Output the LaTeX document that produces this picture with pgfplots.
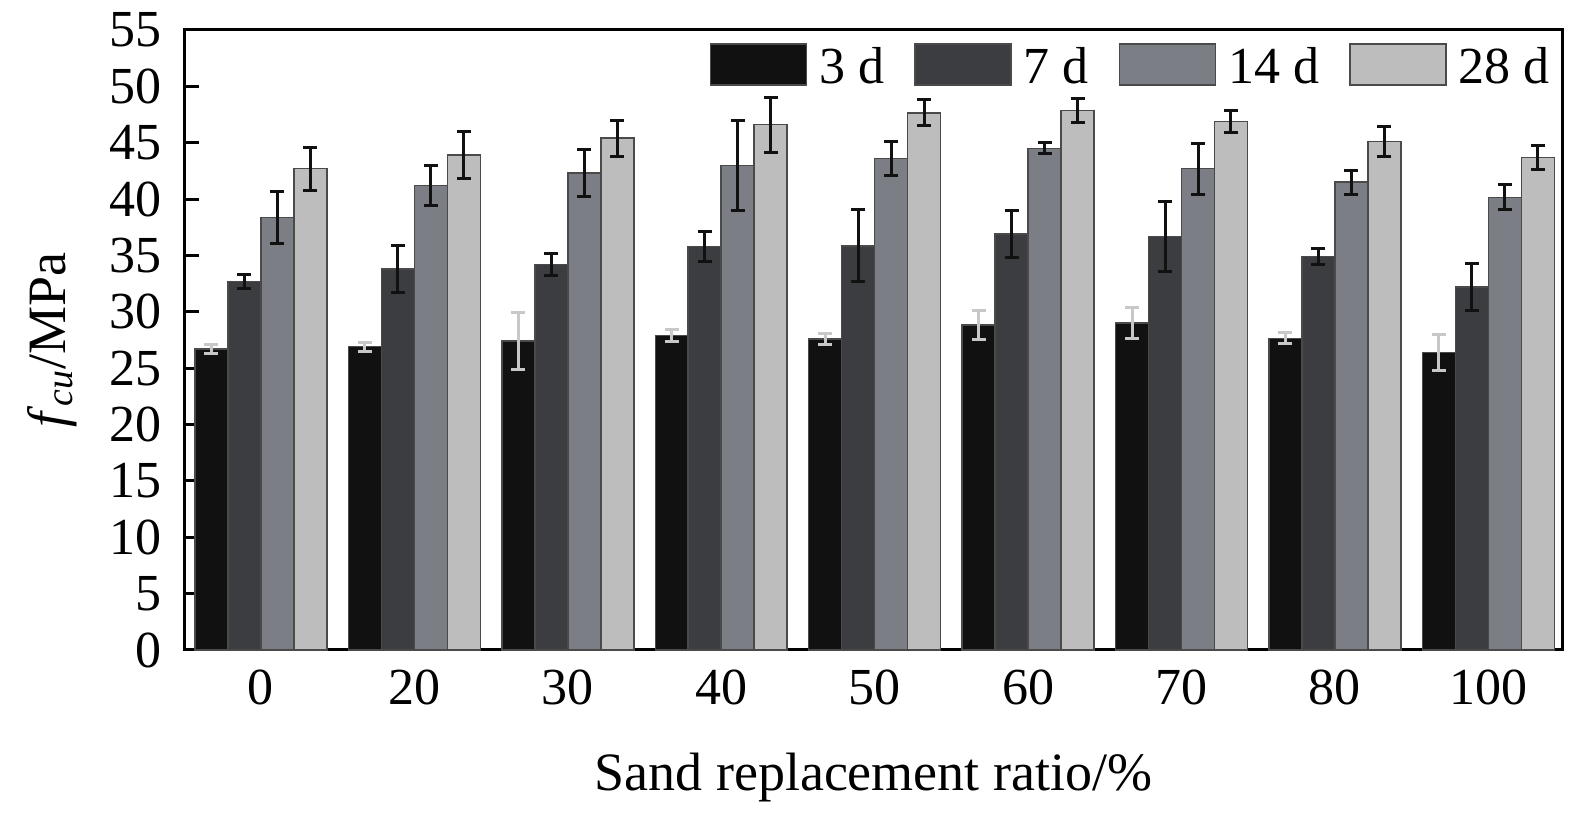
\documentclass[border=0pt]{standalone}
\usepackage{fontspec}
\setmainfont{Liberation Serif}
\usepackage{pgfplots}
\pgfplotsset{compat=1.18}
\usepackage{pgfplotstable}
\definecolor{cA}{HTML}{111111}
\definecolor{cB}{HTML}{3C3D41}
\definecolor{cC}{HTML}{7B7E85}
\definecolor{cD}{HTML}{BDBDBD}
\definecolor{edge}{HTML}{4A4A4A}
\definecolor{errlight}{HTML}{C8C8C8}
\definecolor{errdark}{HTML}{111111}

\pgfplotstableread{
x y e
0 26.7 0.4
1 26.9 0.4
2 27.4 2.5
3 27.9 0.5
4 27.6 0.5
5 28.85 1.3
6 29.0 1.35
7 27.65 0.5
8 26.4 1.6
}\tA
\pgfplotstableread{
x y e
0 32.7 0.6
1 33.8 2.1
2 34.2 1.0
3 35.8 1.35
4 35.85 3.2
5 36.9 2.1
6 36.7 3.1
7 34.9 0.7
8 32.2 2.05
}\tB
\pgfplotstableread{
x y e
0 38.35 2.3
1 41.2 1.75
2 42.3 2.1
3 43.0 4.0
4 43.6 1.55
5 44.5 0.5
6 42.7 2.25
7 41.5 1.05
8 40.15 1.1
}\tC
\pgfplotstableread{
x y e
0 42.7 1.9
1 43.9 2.1
2 45.4 1.6
3 46.6 2.45
4 47.65 1.15
5 47.85 1.1
6 46.9 1.0
7 45.1 1.3
8 43.7 1.05
}\tD

\newcommand{\bigfont}{\fontsize{26}{31}\selectfont}
\newcommand{\labfont}{\fontsize{27}{32}\selectfont}

\begin{document}
\begin{tikzpicture}
\begin{axis}[
  scale only axis,
  width=688.5pt, height=310pt,
  xmin=-0.495, xmax=8.48,
  ymin=0, ymax=55,
  ytick={0,5,...,55},
  xtick={0,...,8},
  xticklabels={0,20,30,40,50,60,70,80,100},
  ytick pos=left, xtick pos=bottom,
  tick align=inside,
  major tick length=7pt,
  x tick style={draw=none},
  y tick style={line width=1.5pt, black},
  axis line style={line width=1.5pt, black},
  /pgf/number format/assume math mode=true,
  tick label style={font=\bigfont, inner sep=0pt},
  yticklabel style={xshift=-11.5pt},
  xticklabel style={yshift=-10pt},
  xlabel={Sand replacement ratio/\%},
  ylabel={\textit{f}\textsubscript{\textit{cu}}/MPa},
  label style={font=\labfont, inner sep=0pt},
  xlabel style={at={(axis description cs:0.5,-0.205)}, anchor=center},
  ylabel style={at={(axis description cs:-0.0966,0.5)}, anchor=center},
  legend columns=4,
  legend style={at={(1,1)}, anchor=north east, xshift=-6pt, yshift=-6.5pt,
    draw=none, fill=none, inner sep=0pt, font=\bigfont,
    nodes={inner sep=0pt},
    /tikz/every odd column/.append style={column sep=6pt},
    /tikz/every even column/.append style={column sep=15pt}},
  legend image code/.code={\draw[#1, line width=0.75pt] (0pt,-9.1pt) rectangle (48pt,11.4pt);},
  clip=false,
]
\addplot[ybar, bar width=0.215, bar shift=0, fill=cA, draw=edge, line width=0.75pt,
  error bars/.cd, y dir=both, y explicit,
  error bar style={line width=1.5pt, errlight},
  error mark options={rotate=90, mark size=3.5pt, line width=1.5pt, errlight}]
  table[x expr=\thisrow{x}-0.3225, y=y, y error=e] {\tA};
\addlegendentry{3 d}
\addplot[ybar, bar width=0.215, bar shift=0, fill=cB, draw=edge, line width=0.75pt,
  error bars/.cd, y dir=both, y explicit,
  error bar style={line width=1.5pt, errdark},
  error mark options={rotate=90, mark size=3.5pt, line width=1.5pt, errdark}]
  table[x expr=\thisrow{x}-0.1075, y=y, y error=e] {\tB};
\addlegendentry{7 d}
\addplot[ybar, bar width=0.215, bar shift=0, fill=cC, draw=edge, line width=0.75pt,
  error bars/.cd, y dir=both, y explicit,
  error bar style={line width=1.5pt, errdark},
  error mark options={rotate=90, mark size=3.5pt, line width=1.5pt, errdark}]
  table[x expr=\thisrow{x}+0.1075, y=y, y error=e] {\tC};
\addlegendentry{14 d}
\addplot[ybar, bar width=0.215, bar shift=0, fill=cD, draw=edge, line width=0.75pt,
  error bars/.cd, y dir=both, y explicit,
  error bar style={line width=1.5pt, errdark},
  error mark options={rotate=90, mark size=3.5pt, line width=1.5pt, errdark}]
  table[x expr=\thisrow{x}+0.3225, y=y, y error=e] {\tD};
\addlegendentry{28 d}
\coordinate (BL) at (rel axis cs:0,0);
\coordinate (TR) at (rel axis cs:1,1);
\end{axis}
\path ([shift={(-92.5pt,-82.5pt)}]BL) rectangle ([shift={(6.5pt,15pt)}]TR);
\end{tikzpicture}
\end{document}
